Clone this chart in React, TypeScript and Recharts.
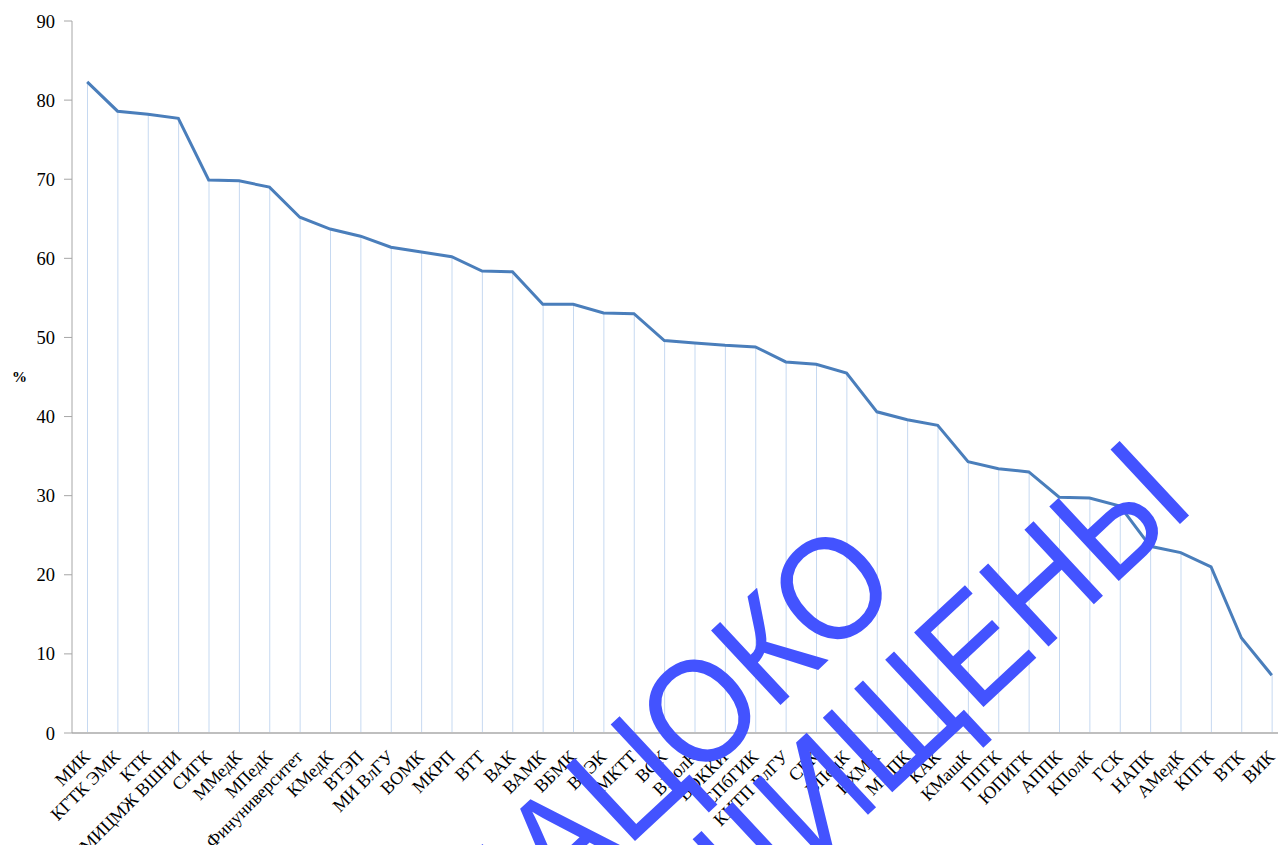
import React from "react";
import { ComposedChart, Line, Bar, XAxis, YAxis } from "recharts";

const categories = [
  "МИК", "КГТК ЭМК", "КТК", "МИЦМЖ ВШНИ", "СИГК", "ММедК", "МПедК",
  "Финуниверситет", "КМедК", "ВТЭП", "МИ ВлГУ", "ВОМК", "МКРП", "ВТТ",
  "ВАК", "ВАМК", "ВБМК", "ВТЭК", "МКТТ", "ВСК", "ВПолК", "ВОККИ",
  "СПбГИК", "КИТП ВлГУ", "СГК", "ВПедК", "ВХМК", "МППК", "КАК",
  "КМашК", "ППГК", "ЮПИГК", "АППК", "КПолК", "ГСК", "НАПК", "АМедК",
  "КПГК", "ВТК", "ВИК",
];

const values = [
  82.3, 78.6, 78.2, 77.7, 69.9, 69.8, 69.0, 65.2, 63.7, 62.8, 61.4, 60.8,
  60.2, 58.4, 58.3, 54.2, 54.2, 53.1, 53.0, 49.6, 49.3, 49.0, 48.8, 46.9,
  46.6, 45.5, 40.6, 39.6, 38.9, 34.3, 33.4, 33.0, 29.8, 29.7, 28.7, 23.6,
  22.8, 21.0, 12.0, 7.3,
];

const yTicks = [0, 10, 20, 30, 40, 50, 60, 70, 80, 90];

const watermark = ["ДАЦОКО", "ЗАЩИЩЕНЫ"];

const data = categories.map((name, i) => ({ name, value: values[i] }));

const serif = "'Liberation Serif', 'Times New Roman', serif";
const sans = "'Liberation Sans', Arial, sans-serif";

const RotatedTick = (props: any) => {
  const { x, y, payload } = props;
  const px = x + 4;
  const py = y + 23;
  return (
    <text
      x={px}
      y={py}
      textAnchor="end"
      transform={`rotate(-45 ${px} ${py})`}
      fontSize={18}
      fontFamily={serif}
      fill="#000"
    >
      {payload.value}
    </text>
  );
};

const App = () => {
  return (
    <div
      style={{
        position: "fixed",
        left: 0,
        top: 0,
        width: 1278,
        height: 845,
        overflow: "hidden",
        background: "#fff",
      }}
    >
      <ComposedChart
        width={1287}
        height={845}
        data={data}
        margin={{ top: 21, right: 0, left: 0, bottom: 0 }}
      >
        <XAxis
          dataKey="name"
          interval={0}
          tickLine={false}
          tickSize={0}
          axisLine={{ stroke: "#bfbfbf", strokeWidth: 2 }}
          height={112}
          tick={<RotatedTick />}
        />
        <YAxis
          width={72}
          domain={[0, 90]}
          ticks={yTicks}
          interval={0}
          tickSize={8}
          tickMargin={9}
          axisLine={{ stroke: "#a6a6a6" }}
          tickLine={{ stroke: "#a6a6a6" }}
          tick={{ fontSize: 18.5, fill: "#000", fontFamily: serif }}
          label={{
            value: "%",
            position: "insideLeft",
            offset: 12,
            style: { fontSize: 15, fontWeight: "bold", fill: "#000", fontFamily: serif },
          }}
        />
        <Bar dataKey="value" barSize={1} fill="#c6d9f1" isAnimationActive={false} />
        <Line
          type="linear"
          dataKey="value"
          stroke="#4a7ebb"
          strokeWidth={3}
          dot={false}
          isAnimationActive={false}
        />
      </ComposedChart>
      <svg
        width={1278}
        height={845}
        style={{ position: "absolute", left: 0, top: 0, pointerEvents: "none" }}
      >
        <g transform="translate(904 590) rotate(-43) scale(0.9 1)">
          <text x={0} y={0} textAnchor="end" fontSize={148} fontFamily={sans} fill="#4353ff">
            {watermark[0]}
          </text>
        </g>
        <g transform="translate(1197 508) rotate(-43) scale(0.9 1)">
          <text x={0} y={0} textAnchor="end" fontSize={148} fontFamily={sans} fill="#4353ff">
            {watermark[1]}
          </text>
        </g>
      </svg>
    </div>
  );
};

export default App;
